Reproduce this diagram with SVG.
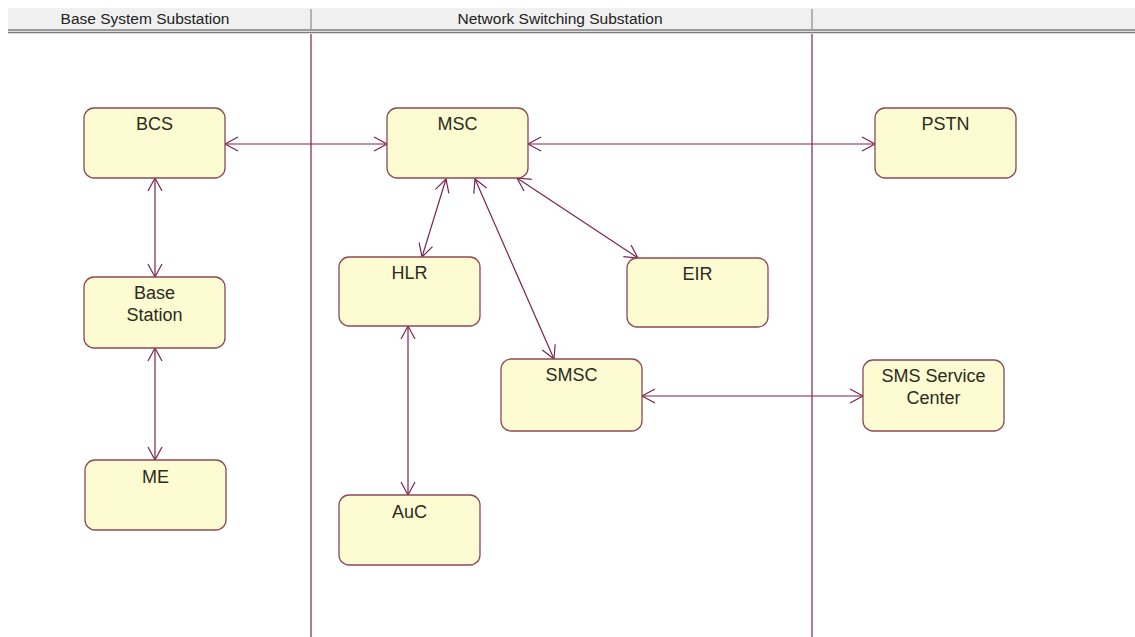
<svg xmlns="http://www.w3.org/2000/svg" width="1135" height="637" viewBox="0 0 1135 637">
  <style>
    .lane-title { font-family: "Liberation Sans", Arial, sans-serif; font-size: 15.5px; fill: #222; text-anchor: middle; }
    .swimline { stroke: #7a2350; stroke-width: 1.2; }
    .node rect { fill: #fdfbd2; stroke: #8a4a55; stroke-width: 1.3; }
    .node text { font-family: "Liberation Sans", Arial, sans-serif; font-size: 18px; fill: #2b2b20; text-anchor: middle; }
    .link { stroke: #7a2350; stroke-width: 1.2; fill: none; marker-start: url(#chevron); marker-end: url(#chevron); }
  </style>
  <defs>
    <marker id="chevron" viewBox="-14 -8 16 16" markerWidth="16" markerHeight="16" refX="0" refY="0" markerUnits="userSpaceOnUse" orient="auto-start-reverse">
      <path d="M-13,-7 L0,0 L-13,7" fill="none" stroke="#7a2350" stroke-width="1.2"/>
    </marker>
  </defs>

  <rect width="1135" height="637" fill="#ffffff"/>

  <!-- swimlane header -->
  <g id="lane-header">
    <rect x="8" y="8" width="1127" height="22" fill="#f0f0f0"/>
    <line x1="8" y1="30" x2="1135" y2="30" stroke="#9a9a9a" stroke-width="2"/>
    <line x1="8" y1="32.5" x2="1135" y2="32.5" stroke="#7a7a7a" stroke-width="1.5"/>
    <line x1="311" y1="9" x2="311" y2="29" stroke="#777" stroke-width="1"/>
    <line x1="812" y1="9" x2="812" y2="29" stroke="#777" stroke-width="1"/>
    <text class="lane-title" x="145" y="24">Base System Substation</text>
    <text class="lane-title" x="560" y="24">Network Switching Substation</text>
  </g>

  <!-- lane separators -->
  <g id="lane-lines">
    <line class="swimline" x1="311" y1="34" x2="311" y2="637"/>
    <line class="swimline" x1="812" y1="34" x2="812" y2="637"/>
  </g>

  <!-- connectors -->
  <g id="connectors">
    <line class="link" x1="225" y1="144" x2="387" y2="144"/>
    <line class="link" x1="528" y1="144" x2="875" y2="144"/>
    <line class="link" x1="155" y1="178" x2="155" y2="277"/>
    <line class="link" x1="155" y1="348" x2="155" y2="460"/>
    <line class="link" x1="446" y1="179" x2="422" y2="257"/>
    <line class="link" x1="475" y1="179" x2="554" y2="359"/>
    <line class="link" x1="517" y1="178" x2="638" y2="258"/>
    <line class="link" x1="408" y1="326" x2="408" y2="495"/>
    <line class="link" x1="642" y1="396" x2="863" y2="396"/>
  </g>

  <!-- nodes -->
  <g id="BCS" class="node">
    <rect x="84" y="108" width="141" height="70" rx="10"/>
    <text x="154.5" y="130">BCS</text>
  </g>
  <g id="MSC" class="node">
    <rect x="387" y="108" width="141" height="70" rx="10"/>
    <text x="457.5" y="130">MSC</text>
  </g>
  <g id="PSTN" class="node">
    <rect x="875" y="108" width="141" height="70" rx="10"/>
    <text x="945.5" y="130">PSTN</text>
  </g>
  <g id="BaseStation" class="node">
    <rect x="84" y="277" width="141" height="71" rx="10"/>
    <text x="154.5" y="299">Base</text>
    <text x="154.5" y="321">Station</text>
  </g>
  <g id="ME" class="node">
    <rect x="85" y="460" width="141" height="70" rx="10"/>
    <text x="155.5" y="483">ME</text>
  </g>
  <g id="HLR" class="node">
    <rect x="339" y="257" width="141" height="69" rx="10"/>
    <text x="409.5" y="279">HLR</text>
  </g>
  <g id="EIR" class="node">
    <rect x="627" y="258" width="141" height="69" rx="10"/>
    <text x="697.5" y="280">EIR</text>
  </g>
  <g id="AuC" class="node">
    <rect x="339" y="495" width="141" height="70" rx="10"/>
    <text x="409.5" y="518">AuC</text>
  </g>
  <g id="SMSC" class="node">
    <rect x="501" y="359" width="141" height="72" rx="10"/>
    <text x="571.5" y="381">SMSC</text>
  </g>
  <g id="SMSServiceCenter" class="node">
    <rect x="863" y="360" width="141" height="71" rx="10"/>
    <text x="933.5" y="382">SMS Service</text>
    <text x="933.5" y="404">Center</text>
  </g>
</svg>
